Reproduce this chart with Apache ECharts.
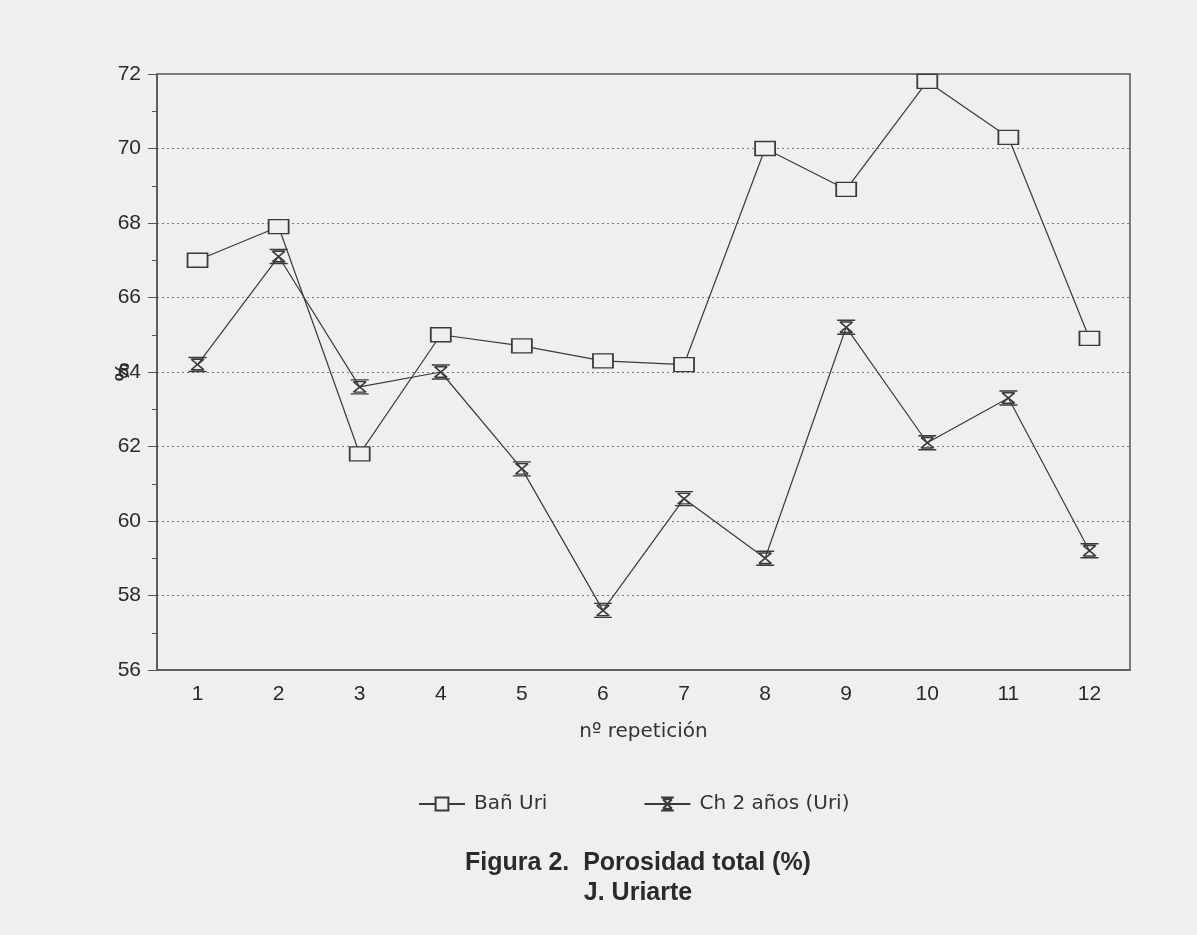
<!DOCTYPE html>
<html>
<head>
<meta charset="utf-8">
<script src="https://cdn.jsdelivr.net/npm/echarts@6/dist/echarts.min.js"></script>
<style>
  html, body { margin: 0; padding: 0; background: #efefed; }
  #chart { width: 1197px; height: 935px; }
</style>
</head>
<body>
<div id="chart"></div>
<script>
// Porosidad total (%) por repetición
const categories = ['1', '2', '3', '4', '5', '6', '7', '8', '9', '10', '11', '12'];
const banUri = [67.0, 67.9, 61.8, 65.0, 64.7, 64.3, 64.2, 70.0, 68.9, 71.8, 70.3, 64.9];
const ch2Anos = [64.2, 67.1, 63.6, 64.0, 61.4, 57.6, 60.6, 59.0, 65.2, 62.1, 63.3, 59.2];
const yTicks = { min: 56, max: 72, interval: 2 };

// hourglass marker with caps
const hourglass = 'path://M0,0 L20,0 M0,16 L20,16 M3,2 L17,14 M17,2 L3,14 M3,2 L17,2 M3,14 L17,14';
const ink = '#3a3a3a';
const bg = '#efefed';
const font = 'Arial, "Liberation Sans", sans-serif';
const wide = '"DejaVu Sans", sans-serif';

const chart = echarts.init(document.getElementById('chart'));
chart.setOption({
  backgroundColor: bg,
  animation: false,
  title: {
    text: 'Figura 2.  Porosidad total (%)\nJ. Uriarte',
    left: 633,
    textAlign: 'center',
    top: 843,
    textStyle: { fontFamily: font, fontSize: 25, fontWeight: 'bold', color: '#2a2a2a', lineHeight: 30 }
  },
  legend: {
    top: 789,
    left: 413,
    itemGap: 96,
    itemWidth: 46,
    itemHeight: 16,
    textStyle: { fontFamily: wide, fontSize: 20, color: '#333', padding: [0, 0, 0, 4] },
    data: ['Bañ Uri', 'Ch 2 años (Uri)']
  },
  graphic: [{
    type: 'text',
    x: 123,
    y: 372,
    rotation: Math.PI / 2,
    style: {
      text: '%', fontFamily: font, fontSize: 21, fontWeight: 'bold', fill: '#2a2a2a',
      align: 'center', verticalAlign: 'middle'
    }
  }],
  grid: {
    left: 157, right: 67, top: 74, bottom: 265,
    show: true, borderColor: '#555', borderWidth: 1.5, backgroundColor: 'transparent'
  },
  xAxis: {
    type: 'category',
    data: categories,
    boundaryGap: true,
    name: 'nº repetición',
    nameLocation: 'middle',
    nameGap: 52,
    nameTextStyle: { fontFamily: wide, fontSize: 20, color: '#333' },
    axisLine: { lineStyle: { color: '#555', width: 1.5 } },
    axisTick: { alignWithLabel: true, length: 9, lineStyle: { color: '#555' } },
    axisLabel: { fontFamily: font, fontSize: 21, color: '#2a2a2a', margin: 14 },
    splitLine: { show: false }
  },
  yAxis: {
    type: 'value',
    min: yTicks.min, max: yTicks.max, interval: yTicks.interval,
    axisLine: { show: true, lineStyle: { color: '#555', width: 1.5 } },
    axisTick: { show: true, length: 9, lineStyle: { color: '#555' } },
    minorTick: { show: true, splitNumber: 2, length: 5, lineStyle: { color: '#555' } },
    axisLabel: { fontFamily: font, fontSize: 21, color: '#2a2a2a', margin: 16 },
    splitLine: { show: true, lineStyle: { color: '#7a7a7a', type: [2, 3], width: 1 } }
  },
  series: [
    {
      name: 'Bañ Uri',
      type: 'line',
      data: banUri,
      symbol: 'rect',
      symbolSize: [20, 14],
      lineStyle: { color: ink, width: 1.2 },
      itemStyle: { color: bg, borderColor: ink, borderWidth: 1.5 }
    },
    {
      name: 'Ch 2 años (Uri)',
      type: 'line',
      data: ch2Anos,
      symbol: hourglass,
      symbolSize: [18, 14],
      lineStyle: { color: ink, width: 1.2 },
      itemStyle: { color: 'transparent', borderColor: ink, borderWidth: 1.6 }
    }
  ]
});
</script>
</body>
</html>
